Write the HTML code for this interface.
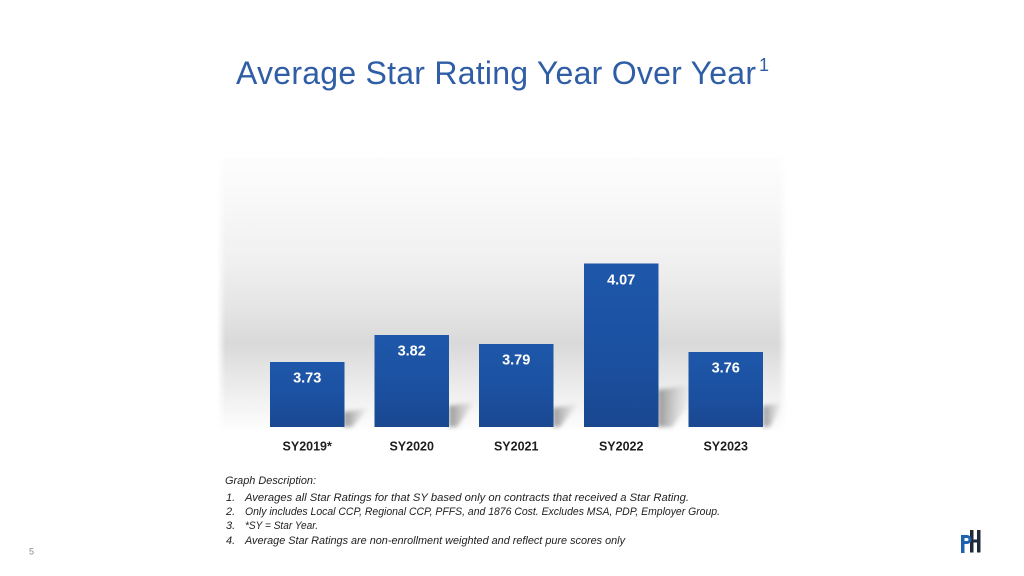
<!DOCTYPE html>
<html>
<head>
<meta charset="utf-8">
<style>
  html,body{margin:0;padding:0;background:#fff;}
  svg{display:block;}
</style>
</head>
<body>
<svg width="1024" height="576" viewBox="0 0 1024 576" xmlns="http://www.w3.org/2000/svg">
  <defs>
    <linearGradient id="panel" x1="0" y1="0" x2="0" y2="1">
      <stop offset="0" stop-color="#fdfdfd"/>
      <stop offset="0.16" stop-color="#f8f8f8"/>
      <stop offset="0.38" stop-color="#f0f0f0"/>
      <stop offset="0.56" stop-color="#e4e4e4"/>
      <stop offset="0.68" stop-color="#d9d9d9"/>
      <stop offset="0.76" stop-color="#e3e3e3"/>
      <stop offset="0.87" stop-color="#f0f0f0"/>
      <stop offset="0.97" stop-color="#fbfbfb"/>
      <stop offset="1" stop-color="#ffffff"/>
    </linearGradient>
    <linearGradient id="edge" x1="0" y1="0" x2="1" y2="0">
      <stop offset="0" stop-color="#000"/>
      <stop offset="0.015" stop-color="#fff"/>
      <stop offset="0.985" stop-color="#fff"/>
      <stop offset="1" stop-color="#000"/>
    </linearGradient>
    <mask id="edgemask">
      <rect x="217" y="157" width="570" height="275" fill="url(#edge)"/>
    </mask>
    <linearGradient id="bar" x1="0" y1="0" x2="0" y2="1">
      <stop offset="0" stop-color="#1e57aa"/>
      <stop offset="0.6" stop-color="#1b50a0"/>
      <stop offset="1" stop-color="#1a4790"/>
    </linearGradient>
    <linearGradient id="shad" x1="0" y1="0" x2="1" y2="0">
      <stop offset="0" stop-color="#8a8a8a" stop-opacity="0.9"/>
      <stop offset="1" stop-color="#b8b8b8" stop-opacity="0.1"/>
    </linearGradient>
    <filter id="blur" x="-30%" y="-30%" width="160%" height="160%">
      <feGaussianBlur stdDeviation="2.2"/>
    </filter>
  </defs>

  <!-- Title -->
  <text x="236" y="84" font-family="Liberation Sans, sans-serif" font-size="32" fill="#2f5ea6" textLength="520" lengthAdjust="spacing">Average Star Rating Year Over Year</text>
  <text x="759" y="71" font-family="Liberation Sans, sans-serif" font-size="18" fill="#2f5ea6">1</text>

  <!-- Panel background -->
  <rect x="217" y="157" width="570" height="275" fill="url(#panel)" mask="url(#edgemask)"/>

  <!-- Shadows -->
  <g filter="url(#blur)" fill="url(#shad)">
    <polygon points="344,412 368,408 360,418 352,427 344,427"/>
    <polygon points="449,406 475,402 466,414 457,427 449,427"/>
    <polygon points="553,408 578,404 569,415 560,427 553,427"/>
    <polygon points="658,390 688,385 688,405 672,427 658,427"/>
    <polygon points="763,406 781,403 777,414 770,427 763,427"/>
  </g>

  <!-- Bars -->
  <rect x="270" y="362" width="74.5" height="65" fill="url(#bar)"/>
  <rect x="374.5" y="335" width="74.5" height="92" fill="url(#bar)"/>
  <rect x="479" y="344" width="74.5" height="83" fill="url(#bar)"/>
  <rect x="584" y="263.5" width="74.5" height="163.5" fill="url(#bar)"/>
  <rect x="688.5" y="352" width="74.5" height="75" fill="url(#bar)"/>

  <!-- Bar values -->
  <g font-family="Liberation Sans, sans-serif" font-weight="bold" font-size="14.5" fill="#ffffff" text-anchor="middle">
    <text x="307.2" y="382.5">3.73</text>
    <text x="411.7" y="355.5">3.82</text>
    <text x="516.2" y="364.5">3.79</text>
    <text x="621.2" y="284.5">4.07</text>
    <text x="725.7" y="372.5">3.76</text>
  </g>

  <!-- Category labels -->
  <g font-family="Liberation Sans, sans-serif" font-weight="bold" font-size="12.5" fill="#1e1e1e" text-anchor="middle">
    <text x="307.2" y="450.5">SY2019*</text>
    <text x="411.7" y="450.5">SY2020</text>
    <text x="516.2" y="450.5">SY2021</text>
    <text x="621.2" y="450.5">SY2022</text>
    <text x="725.7" y="450.5">SY2023</text>
  </g>

  <!-- Footnotes -->
  <g font-family="Liberation Sans, sans-serif" font-style="italic" font-size="11" fill="#222">
    <text x="225" y="484" textLength="91" lengthAdjust="spacingAndGlyphs">Graph Description:</text>
    <text x="226" y="501">1.</text>
    <text x="245" y="501" textLength="444" lengthAdjust="spacingAndGlyphs">Averages all Star Ratings for that SY based only on contracts that received a Star Rating.</text>
    <text x="226" y="515">2.</text>
    <text x="245" y="515" textLength="475" lengthAdjust="spacingAndGlyphs">Only includes Local CCP, Regional CCP, PFFS, and 1876 Cost. Excludes MSA, PDP, Employer Group.</text>
    <text x="226" y="529">3.</text>
    <text x="245" y="529" textLength="73" lengthAdjust="spacingAndGlyphs">*SY = Star Year.</text>
    <text x="226" y="544">4.</text>
    <text x="245" y="544" textLength="380" lengthAdjust="spacingAndGlyphs">Average Star Ratings are non-enrollment weighted and reflect pure scores only</text>
  </g>

  <!-- Page number -->
  <text x="29" y="554.5" font-family="Liberation Sans, sans-serif" font-size="9" fill="#8a8a8a">5</text>

  <!-- Logo -->
  <g>
    <rect x="970" y="530" width="3.5" height="22.5" fill="#1f2a3a"/>
    <rect x="977" y="530" width="3.5" height="22.5" fill="#1f2a3a"/>
    <rect x="970" y="539.5" width="10" height="3" fill="#1f2a3a"/>
    <path d="M961,535 h6 a4.5,4.5 0 0 1 0,9 h-2.5 v9 h-3.5 z M964.5,538 v3 h2.5 a1.5,1.5 0 0 0 0,-3 z" fill="#1f63b0" fill-rule="evenodd"/>
  </g>
</svg>
</body>
</html>
